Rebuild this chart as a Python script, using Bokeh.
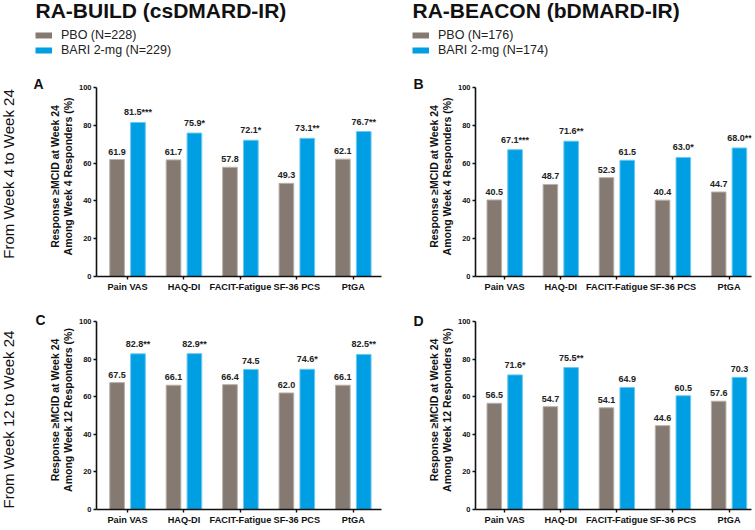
from math import pi
from bokeh.plotting import figure
from bokeh.models import (Range1d, FixedTicker, Legend, LegendItem,
                          ColumnDataSource)
from bokeh.layouts import column, row
from bokeh.embed import file_html
from bokeh.resources import INLINE
from bokeh.transform import dodge
from bokeh.core.properties import value

# ---------------- data ----------------
categories = ["Pain VAS", "HAQ-DI", "FACIT-Fatigue", "SF-36 PCS", "PtGA"]
y_ticks = [0, 20, 40, 60, 80, 100]

build_title = "RA-BUILD (csDMARD-IR)"
build_pbo_label = "PBO (N=228)"
build_bari_label = "BARI 2-mg (N=229)"
beacon_title = "RA-BEACON (bDMARD-IR)"
beacon_pbo_label = "PBO (N=176)"
beacon_bari_label = "BARI 2-mg (N=174)"

row1_label = "From Week 4 to Week 24"
row2_label = "From Week 12 to Week 24"
ylab_wk4 = "Response \u2265MCID at Week 24\nAmong Week 4 Responders (%)"
ylab_wk12 = "Response \u2265MCID at Week 24\nAmong Week 12 Responders (%)"

# Panel A: RA-BUILD, week 4 responders
a_pbo = [61.9, 61.7, 57.8, 49.3, 62.1]
a_bari = [81.5, 75.9, 72.1, 73.1, 76.7]
a_sig = ["***", "*", "*", "**", "**"]
# Panel B: RA-BEACON, week 4 responders
b_pbo = [40.5, 48.7, 52.3, 40.4, 44.7]
b_bari = [67.1, 71.6, 61.5, 63.0, 68.0]
b_sig = ["***", "**", "", "*", "**"]
# Panel C: RA-BUILD, week 12 responders
c_pbo = [67.5, 66.1, 66.4, 62.0, 66.1]
c_bari = [82.8, 82.9, 74.5, 74.6, 82.5]
c_sig = ["**", "**", "", "*", "**"]
# Panel D: RA-BEACON, week 12 responders
d_pbo = [56.5, 54.7, 54.1, 44.6, 57.6]
d_bari = [71.6, 75.5, 64.9, 60.5, 70.3]
d_sig = ["*", "**", "", "", ""]

# ---------------- style ----------------
FONT = "Liberation Sans"
GRAY = "#857A71"
BLUE = "#009FE3"
INK = "#111111"
BAR_W = 0.26
OFF = 0.185


def blank(width, height, mbt=0, mbb=0, frame_h=None):
    f = figure(width=width, height=height, x_range=Range1d(0, width),
               y_range=Range1d(0, frame_h if frame_h else height),
               output_backend="svg", toolbar_location=None, min_border=0,
               min_border_left=0, min_border_right=0, min_border_top=mbt,
               min_border_bottom=mbb, title=None, x_axis_location=None,
               y_axis_location=None, outline_line_color=None)
    f.xgrid.visible = False
    f.ygrid.visible = False
    return f


def put_text(f, x, y, txt, size, bold=False, angle=0.0, align="left"):
    f.text(x=[x], y=[y], text=[txt], angle=angle, text_align=align,
           text_baseline="middle", text_font=value(FONT),
           text_font_size=size, text_font_style="bold" if bold else "normal",
           text_color=INK)


def header(title, pbo_label, bari_label, width, height, tx):
    h = blank(width, height)
    put_text(h, tx, height - 9.5, title, "21px", bold=True)
    r1 = h.line(x=[-20, -10], y=[-20, -20], line_color=GRAY, line_width=6)
    r2 = h.line(x=[-20, -10], y=[-20, -20], line_color=BLUE, line_width=6)
    leg = Legend(items=[LegendItem(label=pbo_label, renderers=[r1]),
                        LegendItem(label=bari_label, renderers=[r2])],
                 location=(tx, 13.5), glyph_width=17, glyph_height=14,
                 label_height=14, spacing=1, padding=0, margin=0,
                 label_standoff=9, border_line_color=None,
                 background_fill_alpha=0, label_text_font=FONT,
                 label_text_font_size="12.5px", label_text_color="#222222")
    h.add_layout(leg)
    return h


def strip(width, height, mbt, mbb, letter, lx, ly, row_label=None,
          rx=0, ry=0):
    # frame of this strip is aligned with the panel frames of its row
    s = blank(width, height, mbt, mbb, frame_h=height - mbt - mbb)
    put_text(s, lx, ly, letter, "14px", bold=True)
    if row_label:
        put_text(s, rx, ry, row_label, "15px", angle=pi / 2, align="center")
    return s


def panel(pbo, bari, sig, ylab, width, height, mbl, mbr, mbt, mbb, xr,
          ymax):
    p = figure(width=width, height=height, x_range=Range1d(*xr),
               y_range=Range1d(0, ymax), output_backend="svg",
               toolbar_location=None, title=None, min_border_left=mbl,
               min_border_right=mbr, min_border_top=mbt,
               min_border_bottom=mbb, outline_line_color=None)
    p.xgrid.visible = False
    p.ygrid.visible = False
    src = ColumnDataSource(dict(
        x=list(range(len(categories))), pbo=pbo, bari=bari,
        pbo_txt=[f"{v:.1f}" for v in pbo],
        bari_txt=[f"{v:.1f}{s}" for v, s in zip(bari, sig)]))
    p.vbar(x=dodge("x", -OFF), top="pbo", width=BAR_W, source=src,
           fill_color=GRAY, line_color="#B9B1AA", line_width=1)
    p.vbar(x=dodge("x", OFF), top="bari", width=BAR_W, source=src,
           fill_color=BLUE, line_color="#6CC8F0", line_width=1)
    common = dict(text_align="center", text_baseline="bottom", y_offset=-5,
                  text_font=value(FONT), text_font_style="bold",
                  text_font_size="9px", text_color="#222222", source=src)
    p.text(x=dodge("x", -OFF), y="pbo", text="pbo_txt", **common)
    p.text(x=dodge("x", OFF), y="bari", text="bari_txt", **common)

    for ax in (p.xaxis, p.yaxis):
        ax.axis_line_width = 1.6
        ax.axis_line_color = INK
        ax.major_tick_line_color = INK
        ax.major_tick_line_width = 1.4
        ax.major_tick_in = 0
        ax.major_tick_out = 3
        ax.minor_tick_line_color = None
        ax.major_label_text_font = FONT
        ax.major_label_text_font_style = "bold"
        ax.major_label_text_color = INK
    p.xaxis.ticker = FixedTicker(ticks=list(range(len(categories))))
    p.xaxis.major_label_overrides = {i: c for i, c in enumerate(categories)}
    p.xaxis.major_label_text_font_size = "9.2px"
    p.xaxis.major_label_standoff = 2
    p.yaxis.ticker = FixedTicker(ticks=y_ticks)
    p.yaxis.bounds = (y_ticks[0], y_ticks[-1])
    p.yaxis.major_label_text_font_size = "7.5px"
    p.yaxis.major_label_standoff = 2
    p.yaxis.axis_label = ylab
    p.yaxis.axis_label_text_font = FONT
    p.yaxis.axis_label_text_font_style = "bold"
    p.yaxis.axis_label_text_font_size = "10.5px"
    p.yaxis.axis_label_text_line_height = 1.1
    p.yaxis.axis_label_text_color = INK
    p.yaxis.axis_label_standoff = 2
    return p


H0, H1, H2 = 70, 228, 230          # header, row 1, row 2 heights
SA, PA, SB, PB = 45, 339, 40, 329  # column widths

# row 1: frame spans y 76..276 (value 100 sits at y 87)
T1, B1 = 6, 22
YMAX1 = 100 * (H1 - T1 - B1) / 189
# row 2: frame spans y 310..509 (value 100 sits at y 321)
T2, B2 = 12, 19
YMAX2 = 100 * (H2 - T2 - B2) / 188

hA = header(build_title, build_pbo_label, build_bari_label, SA + PA, H0, 35)
hB = header(beacon_title, beacon_pbo_label, beacon_bari_label, SB + PB, H0, 28)

sA = strip(SA, H1, T1, B1, "A", 33, 193, row1_label, 7.5, 102.5)
pA = panel(a_pbo, a_bari, a_sig, ylab_wk4, PA, H1, 43, 3, T1, B1,
           (-0.55, 4.5), YMAX1)
sB = strip(SB, H1, T1, B1, "B", 29, 193)
pB = panel(b_pbo, b_bari, b_sig, ylab_wk4, PB, H1, 43, 2, T1, B1,
           (-0.52, 4.4), YMAX1)

sC = strip(SA, H2, T2, B2, "C", 35, 190, row2_label, 7.5, 90)
pC = panel(c_pbo, c_bari, c_sig, ylab_wk12, PA, H2, 43, 3, T2, B2,
           (-0.55, 4.5), YMAX2)
sD = strip(SB, H2, T2, B2, "D", 29, 189)
pD = panel(d_pbo, d_bari, d_sig, ylab_wk12, PB, H2, 43, 2, T2, B2,
           (-0.52, 4.4), YMAX2)

layout = column(row(hA, hB), row(sA, pA, sB, pB), row(sC, pC, sD, pD))
open("out.html", "w").write(file_html(layout, INLINE))
